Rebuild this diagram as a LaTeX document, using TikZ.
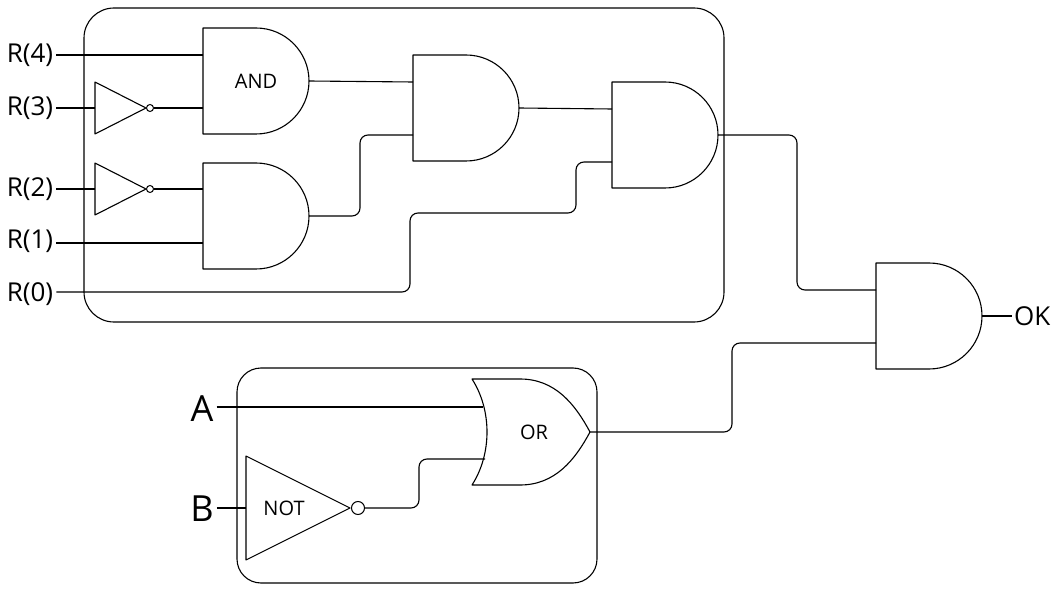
\documentclass[tikz,border=0pt]{standalone}
\usepackage{fontspec}
\setmainfont{Open Sans}
\begin{document}
\newcommand{\andg}[3]{% name, x, ytop
  \draw[gate] (#2,#3) -- ++(53,0) arc[start angle=90,end angle=-90,radius=53pt] -- ++(-53,0) -- cycle;
  \coordinate (#1-a) at (#2,#3+27);
  \coordinate (#1-b) at (#2,#3+80);
  \coordinate (#1-o) at (#2+106,#3+53);
  \coordinate (#1-c) at (#2+53,#3+53);
}
\begin{tikzpicture}[x=1pt,y=-1pt,
  gate/.style={line width=1.1pt,line join=round},
  wire/.style={line width=1.1pt,rounded corners=8pt},
  box/.style={line width=1.1pt,rounded corners=30pt},
  lbl/.style={font=\fontsize{26}{26}\selectfont,inner sep=3pt},
  big/.style={font=\fontsize{36}{36}\selectfont,inner sep=3pt},
  gl/.style={font=\fontsize{20}{20}\selectfont}]
\useasboundingbox (0,0) rectangle (1061,596);
\draw[box] (84,8) rectangle (724,322);
\draw[box,rounded corners=24pt] (237,368) rectangle (597,583);
% gates
\andg{g1}{203}{28}
\andg{g2}{203}{163}
\andg{g3}{413}{55}
\andg{g4}{612}{82}
\andg{g5}{876}{263}
\node[gl] (andl) at (g1-c) {AND};
% inverters
\draw[gate] (95,82) -- (146,108) -- (95,134) -- cycle;
\node[draw,circle,inner sep=0pt,minimum size=7pt,line width=1pt] (b1) at (150,108) {};
\draw[gate] (95,163) -- (146,189) -- (95,215) -- cycle;
\node[draw,circle,inner sep=0pt,minimum size=7pt,line width=1pt] (b2) at (150,189) {};
\coordinate (i1) at (95,108); \coordinate (i2) at (95,189);
% labels
\node[lbl] (r4) at (30,55) {R(4)};
\node[lbl] (r3) at (30,108) {R(3)};
\node[lbl] (r2) at (30,189) {R(2)};
\node[lbl] (r1) at (30,241) {R(1)};
\node[lbl] (r0) at (30,294) {R(0)};
\draw[wire] (r4.east |- g1-a) -- (g1-a);
\draw[wire] (r3.east |- i1) -- (i1);
\draw[wire] (b1.east) -- (g1-b);
\draw[wire] (r2.east |- i2) -- (i2);
\draw[wire] (b2.east) -- (b2.east -| g2-a);
\draw[wire] (r1.east |- g2-b) -- (g2-b);
\draw[wire] (g1-o) -- (g3-a);
\draw[wire] (g2-o) -- (360,216) -- (360,135) -- (g3-b);
\draw[wire] (g3-o) -- (g4-a);
\draw[wire] (r0.east |- 0,292) -- (410,292) -- (410,213) -- (576,213) -- (576,162) -- (g4-b);
\draw[wire] (g4-o) -- (797,135) -- (797,290) -- (g5-a);
\draw[wire] (g5-o) -- (1012,316);
\node[lbl,anchor=west,inner sep=2pt] (ok) at (1012,316) {OK};
% OR gate
\draw[gate] (472,379) .. controls (492,410) and (492,454) .. (472,485)
  -- (520,485) .. controls (555,485) and (575,460) .. (590,432)
  .. controls (575,404) and (555,379) .. (520,379) -- cycle;
\node[gl] (orl) at (534,432) {OR};
\coordinate (ora) at (483,407); \coordinate (orb) at (485,459); \coordinate (oro) at (590,432);
% NOT gate
\draw[gate] (246,456) -- (350,508) -- (246,560) -- cycle;
\node[draw,circle,inner sep=0pt,minimum size=13pt,line width=1pt] (nb) at (358,508) {};
\node[gl] (notl) at (284,508) {NOT};
\node[big] (A) at (202,409) {A};
\node[big] (B) at (202,509) {B};
\draw[wire] (A.east |- ora) -- (ora);
\draw[wire] (B.east |- 0,508) -- (246,508);
\draw[wire] (nb.east) -- (419,508) -- (419,459) -- (orb);
\draw[wire] (oro) -- (732,432) -- (732,343) -- (g5-b);
\end{tikzpicture}
\end{document}
